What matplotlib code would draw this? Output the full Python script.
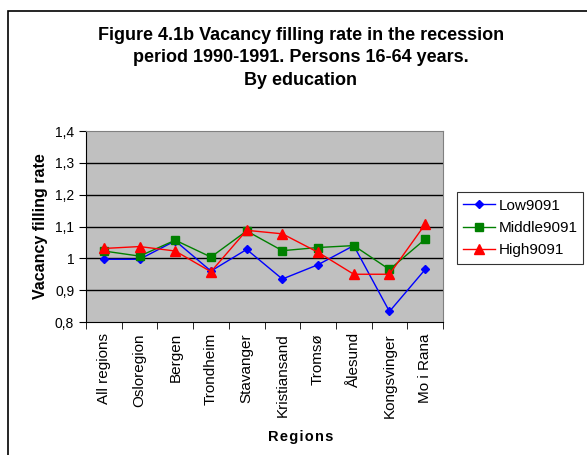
import matplotlib
matplotlib.use("Agg")
import matplotlib.pyplot as plt
from matplotlib.patches import Rectangle

plt.rcParams["font.family"] = ["Liberation Sans", "DejaVu Sans"]

regions = ["All regions", "Osloregion", "Bergen", "Trondheim", "Stavanger",
           "Kristiansand", "Tromsø", "Ålesund", "Kongsvinger", "Mo i Rana"]
low9091 = [0.997, 0.997, 1.055, 0.960, 1.028, 0.935, 0.980, 1.040, 0.833, 0.965]
middle9091 = [1.023, 1.007, 1.057, 1.004, 1.086, 1.024, 1.034, 1.040, 0.965, 1.060]
high9091 = [1.031, 1.037, 1.023, 0.958, 1.088, 1.077, 1.019, 0.950, 0.950, 1.107]
yticks = [0.8, 0.9, 1.0, 1.1, 1.2, 1.3, 1.4]
ytick_labels = ["0,8", "0,9", "1", "1,1", "1,2", "1,3", "1,4"]

fig = plt.figure(figsize=(5.87, 4.55), dpi=100)
# chart area border (cropped on right and bottom)
fig.patches.append(Rectangle((8 / 587, -0.05), 1.0, 1 - 11 / 455 + 0.05,
                             transform=fig.transFigure, fill=False,
                             edgecolor="black", linewidth=1.2))

ax = fig.add_axes([86 / 587, 1 - 322 / 455, 357 / 587, 191 / 455])
ax.set_facecolor("#C0C0C0")
x = list(range(len(regions)))

for yv in yticks[1:-1]:
    ax.axhline(yv, color="black", linewidth=1.0, zorder=1)

ax.plot(x, low9091, color="#0000FF", marker="D", markersize=4.5,
        linewidth=1.0, label="Low9091", zorder=3)
ax.plot(x, middle9091, color="#008000", marker="s", markersize=6,
        linewidth=1.0, label="Middle9091", zorder=3)
ax.plot(x, high9091, color="#FF0000", marker="^", markersize=7,
        linewidth=1.0, label="High9091", zorder=3)

ax.set_xlim(-0.5, len(regions) - 0.5)
ax.set_ylim(0.8, 1.4)
ax.set_yticks(yticks)
ax.set_yticklabels(ytick_labels, fontsize=10)
ax.set_xticks(x)
ax.set_xticklabels(regions, rotation=90, fontsize=11)
ax.set_xticks([k - 0.5 for k in range(len(regions) + 1)], minor=True)
ax.tick_params(axis="x", which="major", length=0, pad=8)
ax.tick_params(axis="x", which="minor", length=5, direction="out")
ax.tick_params(axis="y", length=5, direction="out")

for side in ["top", "right"]:
    ax.spines[side].set_color("#808080")
ax.spines["left"].set_color("black")
ax.spines["bottom"].set_color("black")

ax.set_ylabel("Vacancy filling rate", fontsize=11.5, fontweight="bold", labelpad=5)
fig.text(301 / 587, 1 - 437 / 455, "R e g i o n s".replace(" ", "\u200a"),
         ha="center", va="center", fontsize=10.5, fontweight="bold")

fig.text(301 / 587, 1 - 58 / 455,
         "Figure 4.1b Vacancy filling rate in the recession\n"
         "period 1990-1991. Persons 16-64 years.\nBy education",
         ha="center", va="center", fontsize=13, fontweight="bold",
         linespacing=1.45)

leg = ax.legend(loc="center left", bbox_to_anchor=(457 / 587, 1 - 228 / 455),
                bbox_transform=fig.transFigure, fontsize=11, frameon=True,
                fancybox=False, edgecolor="black", handlelength=2.1,
                borderpad=0.4, labelspacing=0.55, handletextpad=0.2,
                borderaxespad=0)
leg.get_frame().set_linewidth(0.8)

fig.savefig("out.png", dpi=100)
